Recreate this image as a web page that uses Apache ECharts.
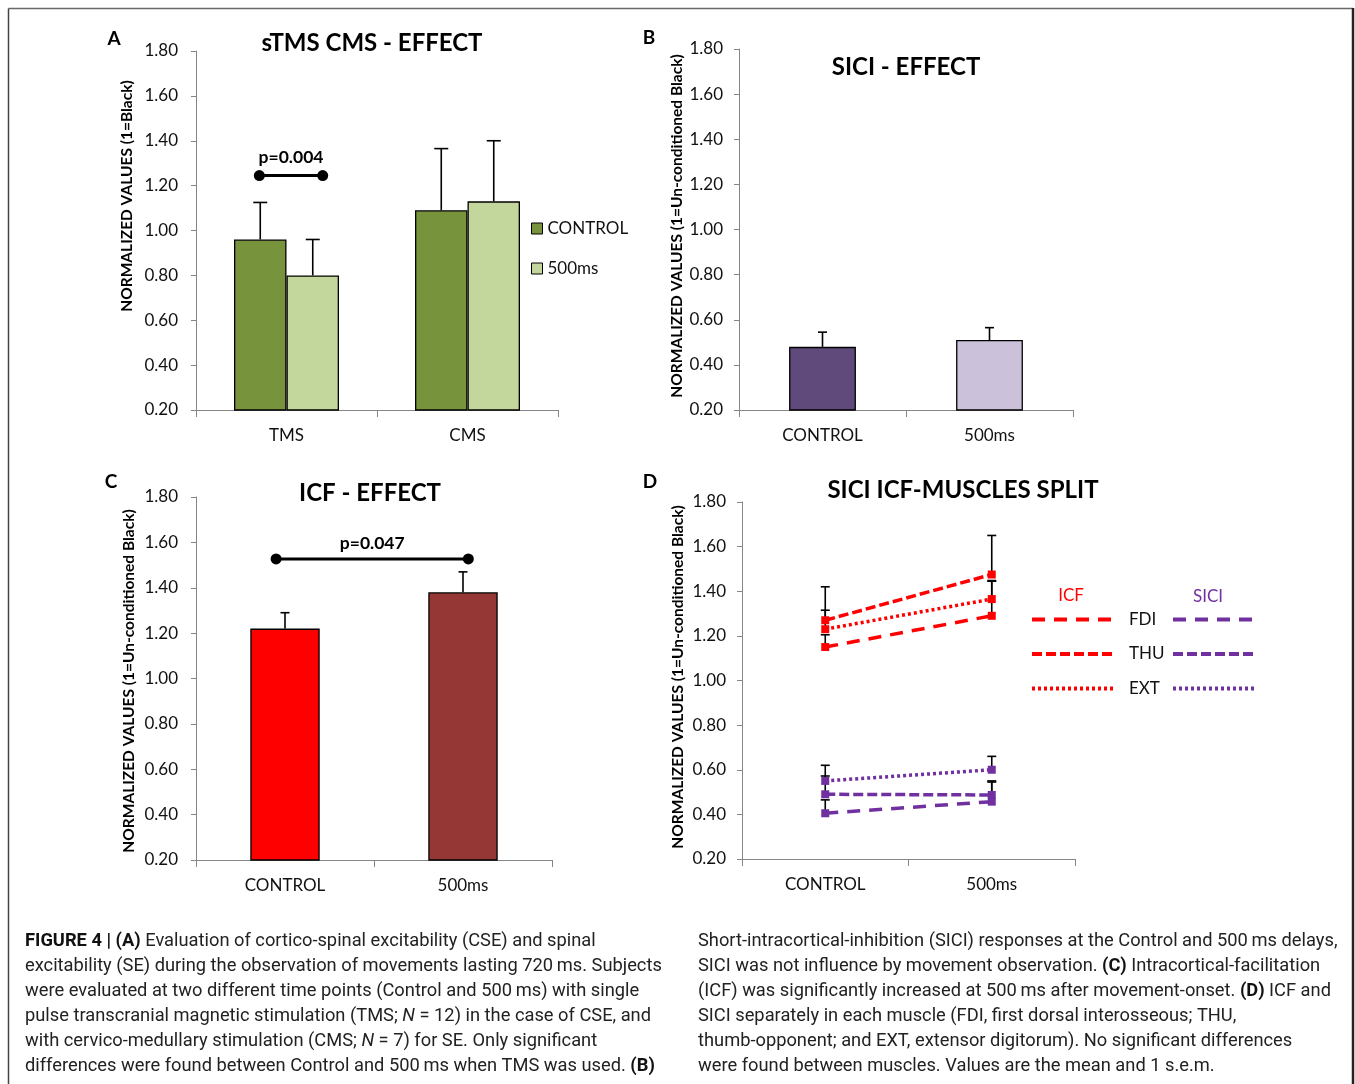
<!DOCTYPE html>
<html><head><meta charset="utf-8">
<script src="https://cdn.jsdelivr.net/npm/echarts@6/dist/echarts.min.js"></script>
<style>html,body{margin:0;padding:0;background:#fff}#c{width:1355px;height:1084px}</style>
</head><body><div id="c"></div>
<script>
// ---------------- DATA ----------------
const yMin = 0.2, yMax = 1.8, yStep = 0.2;

const catsA = ['TMS', 'CMS'];
const controlA = [0.96, 1.09];
const controlASem = [0.165, 0.275];
const ms500A = [0.80, 1.13];
const ms500ASem = [0.16, 0.27];
const sigAEnds = [-0.15, 0.20];
const sigAHeight = 1.245;
const sigALabel = 'p=0.004';

const catsB = ['CONTROL', '500ms'];
const meanB = [0.48, 0.51];
const semB = [0.065, 0.055];

const catsC = ['CONTROL', '500ms'];
const meanC = [1.22, 1.38];
const semC = [0.07, 0.09];
const sigCEnds = [-0.05, 1.03];
const sigCHeight = 1.527;
const sigCLabel = 'p=0.047';

const catsD = ['CONTROL', '500ms'];
const icfFDI = [1.15, 1.29];
const icfFDISem = [0.055, 0.155];
const icfTHU = [1.27, 1.475];
const icfTHUSem = [0.15, 0.175];
const icfEXT = [1.23, 1.365];
const icfEXTSem = [0.085, 0.083];
const siciFDI = [0.405, 0.457];
const siciFDISem = [0.06, 0.088];
const siciTHU = [0.49, 0.487];
const siciTHUSem = [0.082, 0.063];
const siciEXT = [0.55, 0.60];
const siciEXTSem = [0.07, 0.06];

const captionLeft = [
  '{b|FIGURE 4 | (A)} Evaluation of cortico-spinal excitability (CSE) and spinal',
  'excitability (SE) during the observation of movements lasting 720\u2009ms. Subjects',
  'were evaluated at two different time points (Control and 500\u2009ms) with single',
  'pulse transcranial magnetic stimulation (TMS; {i|N} = 12) in the case of CSE, and',
  'with cervico-medullary stimulation (CMS; {i|N} = 7) for SE. Only significant',
  'differences were found between Control and 500\u2009ms when TMS was used. {b|(B)}'
];
const captionRight = [
  'Short-intracortical-inhibition (SICI) responses at the Control and 500\u2009ms delays,',
  'SICI was not influence by movement observation. {b|(C)} Intracortical-facilitation',
  '(ICF) was significantly increased at 500\u2009ms after movement-onset. {b|(D)} ICF and',
  'SICI separately in each muscle (FDI, first dorsal interosseous; THU,',
  'thumb-opponent; and EXT, extensor digitorum). No significant differences',
  'were found between muscles. Values are the mean and 1 s.e.m.'
];

// ---------------- STYLE HELPERS ----------------
const FONT = 'Lato';
const AXIS_GRAY = '#868686';
const TXT = '#111';

function yAxis(gi, margin) {
  return {
    type: 'value', gridIndex: gi, min: yMin, max: yMax, interval: yStep,
    axisLine: { show: true, lineStyle: { color: AXIS_GRAY, width: 1 } },
    axisTick: { show: true, length: 5, lineStyle: { color: AXIS_GRAY } },
    splitLine: { show: false },
    axisLabel: { formatter: v => v.toFixed(2), fontFamily: FONT, fontSize: 17, color: TXT, margin: margin }
  };
}
function xAxis(gi, cats) {
  return {
    type: 'category', gridIndex: gi, data: cats,
    axisLine: { show: true, lineStyle: { color: AXIS_GRAY, width: 1 } },
    axisTick: { show: true, length: 7, alignWithLabel: false, lineStyle: { color: AXIS_GRAY } },
    axisLabel: { fontFamily: FONT, fontSize: 17, color: TXT, margin: 17 }
  };
}
function errRender(n, idx, gap, capW) {
  return function (params, api) {
    const ci = api.value(0), v = api.value(1), s = api.value(2);
    const band = api.size([1, 0])[0];
    const barW = band * (1 - gap) / n;
    const dx = (idx - (n - 1) / 2) * barW;
    const p0 = api.coord([ci, v]);
    const p1 = api.coord([ci, v + s]);
    const x = p0[0] + dx;
    const st = { stroke: '#000', lineWidth: 1.6 };
    return { type: 'group', children: [
      { type: 'line', shape: { x1: x, y1: p0[1], x2: x, y2: p1[1] }, style: st },
      { type: 'line', shape: { x1: x - capW / 2, y1: p1[1], x2: x + capW / 2, y2: p1[1] }, style: st }
    ]};
  };
}
function errSeries(gi, means, sems, n, idx, gap, capW, z) {
  return {
    type: 'custom', xAxisIndex: gi, yAxisIndex: gi, z: z || 5, silent: true,
    renderItem: errRender(n, idx, gap, capW),
    data: means.map((m, i) => [i, m, sems[i]])
  };
}
function sigSeries(gi, ends, height, label, textOff) {
  return {
    type: 'custom', xAxisIndex: gi, yAxisIndex: gi, z: 6, silent: true,
    renderItem: function (params, api) {
      const band = api.size([1, 0])[0];
      const base = api.coord([0, api.value(1)]);
      const x1 = base[0] + ends[0] * band, x2 = base[0] + ends[1] * band, y = base[1];
      return { type: 'group', children: [
        { type: 'line', shape: { x1: x1, y1: y, x2: x2, y2: y }, style: { stroke: '#000', lineWidth: 3 } },
        { type: 'circle', shape: { cx: x1, cy: y, r: 5.5 }, style: { fill: '#000' } },
        { type: 'circle', shape: { cx: x2, cy: y, r: 5.5 }, style: { fill: '#000' } },
        { type: 'text', x: (x1 + x2) / 2, y: y - textOff, style: { text: label, align: 'center', verticalAlign: 'middle', fontFamily: FONT, fontWeight: 'bold', fontSize: 17.5, fill: '#000' } }
      ]};
    },
    data: [[0, height]]
  };
}
function barSeries(gi, name, data, color, gap) {
  return {
    type: 'bar', name: name, xAxisIndex: gi, yAxisIndex: gi, data: data,
    barGap: '0%', barCategoryGap: gap,
    itemStyle: { color: color, borderColor: '#000', borderWidth: 1.3 }
  };
}
function lineSeries(name, data, color, dash) {
  return {
    type: 'line', name: name, xAxisIndex: 3, yAxisIndex: 3, data: data, z: 8,
    symbol: 'rect', symbolSize: 8, itemStyle: { color: color },
    lineStyle: { color: color, width: 3.5, type: dash }
  };
}
function txt(x, y, text, size, weight, color, extra) {
  return Object.assign({ type: 'text', x: x, y: y, silent: true,
    style: { text: text, align: 'center', verticalAlign: 'middle', fontFamily: FONT, fontSize: size, fontWeight: weight || 'normal', fill: color || '#000' } }, extra || {});
}
function vtxt(x, y, text) {
  return { type: 'text', x: x, y: y, rotation: Math.PI / 2, silent: true,
    style: { text: text, align: 'center', verticalAlign: 'middle', fontFamily: FONT, fontSize: 15.5, fontWeight: 'bold', fill: '#000' } };
}

const RED = '#FF0000', PURPLE = '#7030A0';
const DASH_FDI = [13, 9], DASH_THU = [10, 4], DASH_EXT = [3, 3];

const gapA = 0.42, gapB = 0.60, gapC = 0.61;

const CAP_SIZE = 18.3;
const capStyle = { fontFamily: 'Roboto', fontSize: CAP_SIZE, fill: '#222' };
const capRich = { b: { fontFamily: 'Roboto', fontSize: CAP_SIZE, fontWeight: 'bold', fill: '#111' }, i: { fontFamily: 'Roboto', fontSize: CAP_SIZE, fontStyle: 'italic', fill: '#222' } };
const captionEls = [];
captionLeft.forEach((t, i) => captionEls.push({ type: 'text', x: 25, y: 941 + i * 25, silent: true,
  style: Object.assign({ text: t, align: 'left', verticalAlign: 'middle', rich: capRich }, capStyle) }));
captionRight.forEach((t, i) => captionEls.push({ type: 'text', x: 698, y: 941 + i * 25, silent: true,
  style: Object.assign({ text: t, align: 'left', verticalAlign: 'middle', rich: capRich }, capStyle) }));

const option = {
  backgroundColor: '#fff',
  animation: false,
  grid: [
    { left: 196, top: 51, width: 362, height: 359 },
    { left: 739, top: 49, width: 334, height: 361 },
    { left: 196, top: 497, width: 356, height: 363 },
    { left: 742, top: 502, width: 333, height: 357 }
  ],
  xAxis: [xAxis(0, catsA), xAxis(1, catsB), xAxis(2, catsC), xAxis(3, catsD)],
  yAxis: [yAxis(0, 18), yAxis(1, 16), yAxis(2, 18), yAxis(3, 16)],
  legend: [
    { data: ['CONTROL', '500ms'], orient: 'vertical', left: 526, top: 215, itemWidth: 11, itemHeight: 11, itemGap: 23,
      icon: 'rect', itemStyle: { borderColor: '#000', borderWidth: 1 }, selectedMode: false,
      textStyle: { fontFamily: FONT, fontSize: 17, color: TXT } },
    { data: [
        { name: 'ICF FDI', lineStyle: { type: DASH_FDI, width: 4, color: RED }, itemStyle: { opacity: 0 } },
        { name: 'ICF THU', lineStyle: { type: DASH_THU, width: 4, color: RED }, itemStyle: { opacity: 0 } },
        { name: 'ICF EXT', lineStyle: { type: DASH_EXT, width: 4, color: RED }, itemStyle: { opacity: 0 } }
      ], orient: 'vertical', left: 1025, top: 606, itemWidth: 82, itemHeight: 4, itemGap: 17.5, selectedMode: false,
      formatter: n => n.split(' ')[1],
      textStyle: { fontFamily: FONT, fontSize: 17, color: TXT, padding: [0, 0, 0, 10] } },
    { data: [
        { name: 'SICI FDI', lineStyle: { type: DASH_FDI, width: 4, color: PURPLE }, itemStyle: { opacity: 0 } },
        { name: 'SICI THU', lineStyle: { type: DASH_THU, width: 4, color: PURPLE }, itemStyle: { opacity: 0 } },
        { name: 'SICI EXT', lineStyle: { type: DASH_EXT, width: 4, color: PURPLE }, itemStyle: { opacity: 0 } }
      ], orient: 'vertical', left: 1166, top: 606, itemWidth: 82, itemHeight: 4, itemGap: 17.5, selectedMode: false,
      formatter: () => ' ',
      textStyle: { fontFamily: FONT, fontSize: 17, color: TXT } }
  ],
  series: [
    // A
    barSeries(0, 'CONTROL', controlA, '#77933C', (gapA * 100) + '%'),
    barSeries(0, '500ms', ms500A, '#C3D69B', (gapA * 100) + '%'),
    errSeries(0, controlA, controlASem, 2, 0, gapA, 14),
    errSeries(0, ms500A, ms500ASem, 2, 1, gapA, 14),
    sigSeries(0, sigAEnds, sigAHeight, sigALabel, 18),
    // B
    {
      type: 'bar', name: 'SICI effect', xAxisIndex: 1, yAxisIndex: 1, barCategoryGap: (gapB * 100) + '%',
      data: meanB.map((v, i) => ({ value: v, itemStyle: { color: ['#604A7B', '#CCC1DA'][i] } })),
      itemStyle: { borderColor: '#000', borderWidth: 1.3 }
    },
    errSeries(1, meanB, semB, 1, 0, gapB, 9),
    // C
    {
      type: 'bar', name: 'ICF effect', xAxisIndex: 2, yAxisIndex: 2, barCategoryGap: (gapC * 100) + '%',
      data: meanC.map((v, i) => ({ value: v, itemStyle: { color: ['#FF0000', '#953735'][i] } })),
      itemStyle: { borderColor: '#000', borderWidth: 1.3 }
    },
    errSeries(2, meanC, semC, 1, 0, gapC, 9),
    sigSeries(2, sigCEnds, sigCHeight, sigCLabel, 16),
    // D
    errSeries(3, icfFDI, icfFDISem, 1, 0, 0, 9, 4),
    errSeries(3, icfTHU, icfTHUSem, 1, 0, 0, 9, 4),
    errSeries(3, icfEXT, icfEXTSem, 1, 0, 0, 9, 4),
    errSeries(3, siciFDI, siciFDISem, 1, 0, 0, 9, 4),
    errSeries(3, siciTHU, siciTHUSem, 1, 0, 0, 9, 4),
    errSeries(3, siciEXT, siciEXTSem, 1, 0, 0, 9, 4),
    lineSeries('ICF FDI', icfFDI, RED, DASH_FDI),
    lineSeries('ICF THU', icfTHU, RED, DASH_THU),
    lineSeries('ICF EXT', icfEXT, RED, DASH_EXT),
    lineSeries('SICI FDI', siciFDI, PURPLE, DASH_FDI),
    lineSeries('SICI THU', siciTHU, PURPLE, DASH_THU),
    lineSeries('SICI EXT', siciEXT, PURPLE, DASH_EXT)
  ],
  graphic: [
    { type: 'line', silent: true, shape: { x1: 8.5, y1: 8.5, x2: 1353, y2: 8.5 }, style: { stroke: '#6a6a6a', lineWidth: 1.5 } },
    { type: 'line', silent: true, shape: { x1: 8.5, y1: 8.5, x2: 8.5, y2: 1090 }, style: { stroke: '#444', lineWidth: 1.5 } },
    { type: 'line', silent: true, shape: { x1: 1353, y1: 8, x2: 1353, y2: 1090 }, style: { stroke: '#222', lineWidth: 2.5 } },
    txt(114, 39, 'A', 19, 'bold'),
    txt(649, 38, 'B', 19, 'bold'),
    txt(111, 482, 'C', 19, 'bold'),
    txt(650, 482, 'D', 19, 'bold'),
    txt(372, 43, 'sTMS CMS - EFFECT', 24, 'bold'),
    txt(906, 67, 'SICI - EFFECT', 24, 'bold'),
    txt(370, 493, 'ICF - EFFECT', 24, 'bold'),
    txt(963, 490, 'SICI ICF-MUSCLES SPLIT', 24, 'bold'),
    vtxt(127, 196, 'NORMALIZED VALUES (1=Black)'),
    vtxt(677, 226, 'NORMALIZED VALUES (1=Un-conditioned Black)'),
    vtxt(129, 681, 'NORMALIZED VALUES (1=Un-conditioned Black)'),
    vtxt(678, 677, 'NORMALIZED VALUES (1=Un-conditioned Black)'),
    txt(1071, 596, 'ICF', 17, 'normal', RED),
    txt(1208, 597, 'SICI', 17, 'normal', PURPLE)
  ].concat(captionEls)
};

const chart = echarts.init(document.getElementById('c'), null, { renderer: 'canvas' });
chart.setOption(option);
</script>
</body></html>
